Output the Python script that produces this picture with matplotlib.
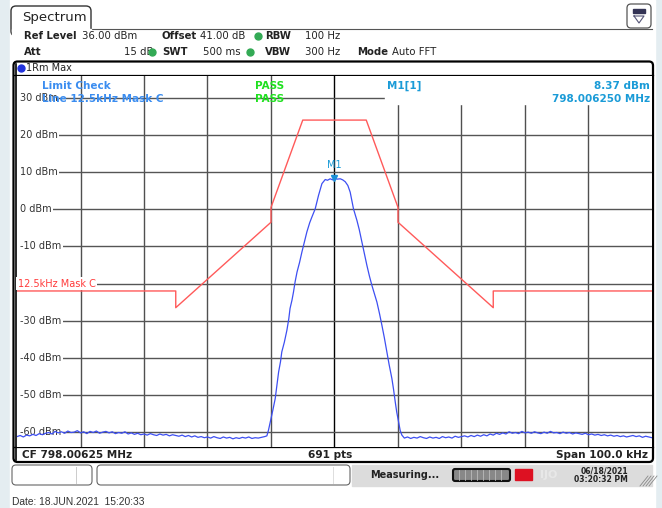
import numpy as np
import matplotlib
matplotlib.use('Agg')
from matplotlib import pyplot as plt
from matplotlib.patches import FancyBboxPatch, Rectangle

# trace data, kHz offset from CF / dBm
left_noise = [
    -61.2, -60.9, -61.3, -60.8, -61.0, -60.6, -60.9, -60.4, -60.7, -60.3,
    -60.1, -60.5, -59.8, -60.2, -59.9, -60.3, -59.7, -60.1, -60.0, -59.6,
    -60.2, -59.9, -60.4, -59.8, -60.1, -59.7, -60.3, -60.0, -59.8, -60.2,
    -59.9, -60.4, -60.1, -60.3, -59.9, -60.5, -60.2, -60.6, -60.3, -60.7,
    -60.5, -60.8, -60.4, -60.7, -60.9, -60.5, -60.8, -60.6, -61.0, -60.7,
    -60.9, -61.1, -60.8, -61.2, -60.9, -61.3, -61.0, -61.4, -61.2, -61.5,
    -61.3, -61.6, -61.2, -61.5, -61.7, -61.3, -61.6, -61.4, -61.8, -61.5,
    -61.7, -61.4, -61.6, -61.3, -61.7, -61.5, -61.6, -61.4, -61.2]
left_freq = [-50 + 0.5 * i for i in range(len(left_noise))]

sig_freq = [-10.65, -10.4, -10.1, -9.7, -9.34, -9.0, -8.8, -8.5, -8.3, -7.9,
            -7.5, -7.2, -7.0, -6.7, -6.46, -6.2, -5.9, -5.5, -5.13, -4.7,
            -4.35, -3.9, -3.56, -3.04, -2.52, -1.98, -1.46, -1.1, -0.68, -0.3,
            0.0, 0.4, 0.9, 1.3, 1.69, 2.1, 2.47, 2.99, 3.53, 3.9,
            4.31, 4.7, 5.1, 5.5, 5.89, 6.3, 6.68, 7.1, 7.46, 7.85,
            8.25, 8.6, 9.04, 9.3, 9.56, 9.8, 10.08, 10.35, 10.61]
sig_level = [-61.0, -59.5, -57.2, -54.0, -51.0, -46.5, -43.8, -41.0, -38.4, -35.8,
             -32.6, -29.5, -26.7, -24.5, -22.3, -19.5, -16.9, -14.3, -11.5, -8.5,
             -6.1, -3.6, -2.1, 0.1, 3.7, 6.9, 8.0, 7.8, 8.2, 7.9,
             8.37, 8.1, 8.2, 7.9, 7.4, 6.4, 4.6, 0.1, -3.0, -5.5,
             -8.8, -12.0, -15.1, -18.0, -20.5, -22.8, -25.0, -28.2, -31.2, -34.6,
             -38.4, -41.8, -45.6, -48.5, -51.8, -54.6, -57.2, -59.6, -60.8]

right_noise = [
    -61.6, -61.3, -61.7, -61.4, -61.6, -61.2, -61.5, -61.7, -61.3, -61.6,
    -61.4, -61.7, -61.2, -61.5, -61.3, -61.6, -61.1, -61.4, -61.2, -61.0,
    -61.3, -60.9, -61.2, -60.8, -61.1, -60.7, -61.0, -60.5, -60.8, -60.3,
    -60.6, -60.2, -60.5, -59.9, -60.3, -60.1, -60.4, -59.8, -60.2, -60.0,
    -60.3, -59.9, -60.2, -60.4, -60.0, -60.3, -59.8, -60.2, -60.1, -60.4,
    -60.0, -60.3, -60.1, -60.5, -60.2, -60.4, -60.6, -60.3, -60.7, -60.5,
    -60.8, -60.6, -60.9, -60.7, -61.0, -60.8, -61.1, -60.9, -61.2,
    -61.0, -61.3, -61.1, -60.9, -61.2, -61.0, -61.4, -61.1, -61.3, -61.5]
right_freq = [11 + 0.5 * i for i in range(len(right_noise))]

mask_freq = [-50, -25, -25, -10, -10, -5, 5, 10, 10, 25, 25, 50]
mask_level = [-22, -22, -26.5, -3.5, 0.5, 24, 24, 0.5, -3.5, -26.5, -22, -22]

grid_levels = [30, 20, 10, 0, -10, -20, -30, -40, -50, -60]
grid_freqs = [-40, -30, -20, -10, 0, 10, 20, 30, 40]

freq = left_freq + sig_freq + right_freq
level = left_noise + sig_level + right_noise

W, H = 662, 508
fig = plt.figure(figsize=(W / 100, H / 100), dpi=100)
fig.patch.set_facecolor('#e4edf1')

# pixel-space background axes
bg = fig.add_axes([0, 0, 1, 1])
bg.set_xlim(0, W)
bg.set_ylim(H, 0)
bg.axis('off')
bg.add_patch(Rectangle((10, 0), 645, H, color='white', zorder=0))

txt = dict(family='DejaVu Sans', color='#222222')

# tab + header
bg.add_patch(FancyBboxPatch((11, 6), 80, 30, boxstyle='round,pad=0,rounding_size=5',
                            fc='white', ec='#333333', lw=1.0, zorder=2))
bg.plot([91, 652], [29, 29], color='#555555', lw=0.8, zorder=2)
bg.add_patch(Rectangle((11.6, 29), 79, 8, color='white', zorder=3))
bg.text(22, 18, 'Spectrum', fontsize=9.5, va='center', zorder=4, **txt)
bg.add_patch(FancyBboxPatch((627, 4), 24, 24, boxstyle='round,pad=0,rounding_size=4',
                            fc='white', ec='#555555', lw=0.9, zorder=2))
bg.add_patch(Rectangle((633, 9), 12, 4, color='#333355', zorder=3))
bg.plot([634, 644, 639, 634], [16, 16, 23, 16], color='#555577', lw=0.8, zorder=3)

hy1, hy2 = 36, 52
bg.text(24, hy1, 'Ref Level', fontsize=7.3, weight='bold', va='center', **txt)
bg.text(82, hy1, '36.00 dBm', fontsize=7.3, va='center', **txt)
bg.text(162, hy1, 'Offset', fontsize=7.3, weight='bold', va='center', **txt)
bg.text(200, hy1, '41.00 dB', fontsize=7.3, va='center', **txt)
bg.text(24, hy2, 'Att', fontsize=7.3, weight='bold', va='center', **txt)
bg.text(124, hy2, '15 dB', fontsize=7.3, va='center', **txt)
bg.text(162, hy2, 'SWT', fontsize=7.3, weight='bold', va='center', **txt)
bg.text(203, hy2, '500 ms', fontsize=7.3, va='center', **txt)
for gx, gy in [(258, hy1), (152, hy2), (250, hy2)]:
    bg.plot(gx, gy, 'o', ms=5, color='#33aa55', zorder=3)
bg.text(265, hy1, 'RBW', fontsize=7.3, weight='bold', va='center', **txt)
bg.text(305, hy1, '100 Hz', fontsize=7.3, va='center', **txt)
bg.text(265, hy2, 'VBW', fontsize=7.3, weight='bold', va='center', **txt)
bg.text(305, hy2, '300 Hz', fontsize=7.3, va='center', **txt)
bg.text(357, hy2, 'Mode', fontsize=7.3, weight='bold', va='center', **txt)
bg.text(392, hy2, 'Auto FFT', fontsize=7.3, va='center', **txt)

# instrument frame
bg.add_patch(FancyBboxPatch((13.5, 61.5), 639.5, 400.5, boxstyle='round,pad=0,rounding_size=4',
                            fc='white', ec='black', lw=1.6, zorder=2))
bg.plot([15.5, 15.5], [64, 460], color='black', lw=1.2, zorder=3)
bg.plot([14, 653], [75, 75], color='black', lw=0.9, zorder=3)
bg.plot([14, 653], [447, 447], color='black', lw=0.9, zorder=3)
bg.plot(21, 68, 'o', ms=5, color='#2233dd', zorder=4)
bg.text(26, 68, '1Rm Max', fontsize=7, va='center', zorder=4, **txt)
bg.text(22, 454.5, 'CF 798.00625 MHz', fontsize=7.6, weight='bold', va='center', zorder=4, **txt)
bg.text(330, 454.5, '691 pts', fontsize=7.6, weight='bold', va='center', ha='center', zorder=4, **txt)
bg.text(648, 454.5, 'Span 100.0 kHz', fontsize=7.6, weight='bold', va='center', ha='right', zorder=4, **txt)

# status bar
bg.add_patch(FancyBboxPatch((12, 465), 80, 20, boxstyle='round,pad=0,rounding_size=4',
                            fc='white', ec='#666666', lw=0.8, zorder=2))
bg.plot([76, 76], [467, 483], color='#cccccc', lw=0.7, zorder=3)
bg.add_patch(FancyBboxPatch((97, 465), 253, 20, boxstyle='round,pad=0,rounding_size=4',
                            fc='white', ec='#666666', lw=0.8, zorder=2))
bg.plot([333, 333], [467, 483], color='#dddddd', lw=0.7, zorder=3)
bg.add_patch(Rectangle((352, 465), 300, 21, color='#dcdcdc', zorder=1))
bg.text(370, 475, 'Measuring...', fontsize=7, weight='bold', va='center', zorder=4, **txt)
bg.add_patch(FancyBboxPatch((453, 469), 57, 12, boxstyle='round,pad=0,rounding_size=2',
                            fc='#888888', ec='#111111', lw=1.5, zorder=3))
for sx in range(459, 506, 6):
    bg.plot([sx, sx], [470, 480], color='#bbbbbb', lw=0.6, zorder=4)
bg.add_patch(Rectangle((515, 469), 17, 11, color='#dd1122', zorder=3))
bg.text(540, 475, 'IJO', fontsize=8, weight='bold', color='#e8e8e8', va='center', zorder=3)
bg.text(628, 470.5, '06/18/2021', fontsize=5.5, weight='bold', ha='right', va='center', zorder=4, **txt)
bg.text(628, 479.5, '03:20:32 PM', fontsize=5.5, weight='bold', ha='right', va='center', zorder=4, **txt)
for hx in range(640, 652, 3):
    bg.plot([hx, hx + 8], [486, 476], color='#888888', lw=0.6, zorder=4)
bg.text(12, 502, 'Date: 18.JUN.2021  15:20:33', fontsize=7.4, va='center',
        family='Liberation Sans', color='#333333')

# main diagram
x0, x1, y0, y1 = 17, 652, 75.5, 447
ax = fig.add_axes([x0 / W, (H - y1) / H, (x1 - x0) / W, (y1 - y0) / H])
ax.set_xlim(-50, 50)
ax.set_ylim(-64, 36)
ax.set_facecolor('white')
for s in ax.spines.values():
    s.set_visible(False)
ax.set_xticks([])
ax.set_yticks([])

for f in grid_freqs:
    ax.axvline(f, color='black' if f == 0 else '#505050', lw=1.0, zorder=1)
for lv in grid_levels:
    ax.axhline(lv, color='#555555', lw=1.0, zorder=1)

# marker info box hides grid in the corner
ax.add_patch(Rectangle((8, 28.4), 42, 8, color='white', zorder=2))

for lv in grid_levels:
    if lv == -20:
        ax.text(-49.9, lv, '12.5kHz Mask C', fontsize=7, color='#ff3b3b', va='center',
                family='DejaVu Sans', zorder=5,
                bbox=dict(fc='white', ec='none', pad=1.0))
    else:
        ax.text(-49.6, lv, f'{lv} dBm', fontsize=7, color='#333333', va='center',
                family='DejaVu Sans', zorder=3,
                bbox=dict(fc='white', ec='none', pad=1.5))

ax.plot(mask_freq, mask_level, color='#ff5a5a', lw=1.0, zorder=4)
ax.plot(freq, level, color='#3d4ff2', lw=0.9, zorder=4)

# marker
ax.plot(0, 8.37, marker='v', ms=5, color='#1a8fd6', zorder=6)
ax.text(0, 10.6, 'M1', fontsize=7, color='#1a9bd7', ha='center', va='bottom', zorder=6)

blue = '#3b8df0'
green = '#1fe01f'
ax.text(-46, 33.3, 'Limit Check', fontsize=7.5, weight='bold', color=blue, va='center', zorder=6)
ax.text(-46, 29.6, 'Line 12.5kHz Mask C', fontsize=7.5, weight='bold', color=blue, va='center', zorder=6)
ax.text(-12.5, 33.3, 'PASS', fontsize=7.5, weight='bold', color=green, va='center', zorder=6)
ax.text(-12.5, 29.6, 'PASS', fontsize=7.5, weight='bold', color=green, va='center', zorder=6)
ax.text(8.2, 33.3, 'M1[1]', fontsize=7.5, weight='bold', color='#1a9bd7', va='center', zorder=6)
ax.text(49.7, 33.3, '8.37 dBm', fontsize=7.5, weight='bold', color='#1a9bd7', va='center', ha='right', zorder=6)
ax.text(49.7, 29.6, '798.006250 MHz', fontsize=7.5, weight='bold', color='#1a9bd7', va='center', ha='right', zorder=6)

fig.savefig('out.png', dpi=100)
